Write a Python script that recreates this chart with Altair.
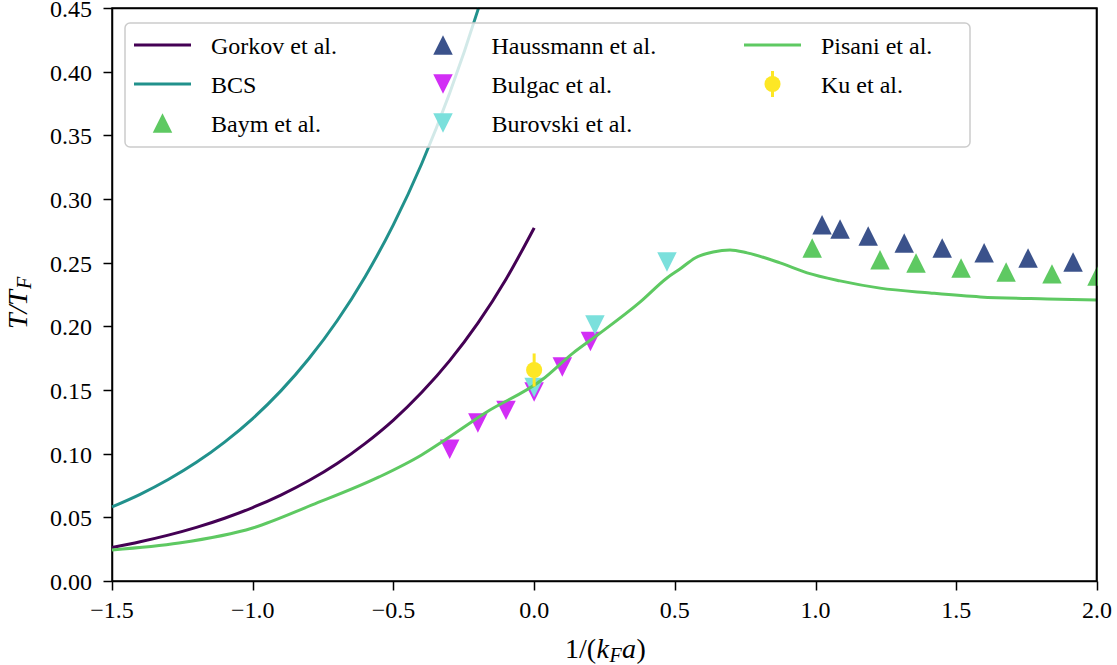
import altair as alt
import pandas as pd

FONT = "Liberation Serif"
LABEL_SIZE = 24
W, H = 985, 573

# ---- curve samples ----
gorkov_x = [-1.5, -1.4, -1.3, -1.2, -1.1, -1.0, -0.9, -0.8, -0.7, -0.6, -0.5, -0.4, -0.3, -0.2, -0.1, 0.0]
gorkov_y = [0.0263, 0.0308, 0.0360, 0.0421, 0.0493, 0.0577, 0.0675, 0.0789, 0.0923, 0.1081, 0.1264, 0.1480, 0.1731, 0.2025, 0.2370, 0.2773]

bcs_x = [-1.5, -1.4, -1.3, -1.2, -1.1, -1.0, -0.9, -0.8, -0.7, -0.6, -0.5, -0.4, -0.3, -0.2, -0.1976]
bcs_y = [0.0582, 0.0681, 0.0797, 0.0932, 0.1091, 0.1276, 0.1493, 0.1747, 0.2044, 0.2392, 0.2799, 0.3275, 0.3832, 0.4483, 0.4500]

pisani_x = [-1.5, -1.262, -1.0, -0.789, -0.551, -0.4, -0.317, -0.174, 0.028, 0.138, 0.224, 0.376, 0.472,
            0.518, 0.572, 0.636, 0.696, 0.757, 0.874, 0.970, 1.087, 1.229, 1.407, 1.585, 1.823, 2.0]
pisani_y = [0.0244, 0.0298, 0.0416, 0.0597, 0.0817, 0.0990, 0.1108, 0.1320, 0.1580, 0.1790, 0.1930, 0.2190, 0.2380,
            0.2450, 0.2537, 0.2584, 0.2600, 0.2577, 0.2498, 0.2420, 0.2357, 0.2300, 0.2262, 0.2231, 0.2215, 0.2207]

# ---- marker series ----
baym_x = [0.988, 1.229, 1.357, 1.517, 1.677, 1.840, 2.0]
baym_y = [0.2616, 0.2522, 0.2498, 0.2459, 0.2427, 0.2412, 0.2396]
haus_x = [1.023, 1.087, 1.187, 1.315, 1.450, 1.599, 1.755, 1.915]
haus_y = [0.2797, 0.2765, 0.2710, 0.2655, 0.2616, 0.2577, 0.2537, 0.2506]
bulgac_x = [-0.3, -0.2, -0.1, 0.0, 0.1, 0.2]
bulgac_y = [0.1035, 0.1240, 0.1340, 0.1485, 0.1680, 0.1880]
burovski_x = [0.0, 0.216, 0.472]
burovski_y = [0.1520, 0.2010, 0.2506]
ku_x = [0.0]
ku_y = [0.1657]
ku_err = [0.013]

# ---- series names / colours (legend order, column by column) ----
SERIES = ["Gorkov et al.", "BCS", "Baym et al.",
          "Haussmann et al.", "Bulgac et al.", "Burovski et al.",
          "Pisani et al.", "Ku et al."]
KIND = ["line", "line", "up", "up", "down", "down", "line", "ku"]
COLORS = ["#440154", "#21918c", "#5ec962",
          "#3b528b", "#d22ef5", "#7be0dc",
          "#5ec962", "#fde725"]
CLR = dict(zip(SERIES, COLORS))

X_TICKS = [-1.5, -1.0, -0.5, 0.0, 0.5, 1.0, 1.5, 2.0]
Y_TICKS = [0.0, 0.05, 0.10, 0.15, 0.20, 0.25, 0.30, 0.35, 0.40, 0.45]

UP = "M0,-1L-1,1L1,1Z"
DOWN = "M0,1L-1,-1L1,-1Z"

XS = alt.Scale(domain=[-1.5, 2.0], nice=False, zero=False)
YS = alt.Scale(domain=[0, 0.45], nice=False, zero=False)
ax_common = dict(grid=False, labels=False, tickSize=9, tickWidth=1.5, tickColor="black",
                 domainColor="black", domainWidth=1.5, title=None)
XAX = alt.Axis(values=X_TICKS, **ax_common)
YAX = alt.Axis(values=Y_TICKS, **ax_common)


def X(f):
    return alt.X(f + ":Q", scale=XS, axis=XAX)


def Y(f):
    return alt.Y(f + ":Q", scale=YS, axis=YAX)


def xy(xs, ys):
    return pd.DataFrame({"x": xs, "y": ys})


def line_layer(xs, ys, name):
    return alt.Chart(xy(xs, ys)).mark_line(
        color=CLR[name], strokeWidth=3, interpolate="monotone"
    ).encode(x=X("x"), y=Y("y"))


def point_layer(xs, ys, name, shape, size):
    return alt.Chart(xy(xs, ys)).mark_point(
        shape=shape, filled=True, color=CLR[name], opacity=1, size=size, strokeWidth=0
    ).encode(x=X("x"), y=Y("y"))


layers = [
    line_layer(gorkov_x, gorkov_y, "Gorkov et al."),
    line_layer(bcs_x, bcs_y, "BCS"),
    point_layer(baym_x, baym_y, "Baym et al.", UP, 380),
    point_layer(haus_x, haus_y, "Haussmann et al.", UP, 380),
    point_layer(bulgac_x, bulgac_y, "Bulgac et al.", DOWN, 380),
    point_layer(burovski_x, burovski_y, "Burovski et al.", DOWN, 380),
    line_layer(pisani_x, pisani_y, "Pisani et al."),
]
ku = pd.DataFrame({"x": ku_x, "y": ku_y,
                   "lo": [v - e for v, e in zip(ku_y, ku_err)],
                   "hi": [v + e for v, e in zip(ku_y, ku_err)]})
layers.append(alt.Chart(ku).mark_rule(color=CLR["Ku et al."], strokeWidth=3).encode(
    x=X("x"), y=Y("lo"), y2="hi:Q"))
layers.append(point_layer(ku_x, ku_y, "Ku et al.", "circle", 260))

one = pd.DataFrame({"t": [0]})

# white strip right of the plot area (markers are cut at the axes edge, as in the reference)
layers.append(alt.Chart(one).mark_rect(fill="white", stroke="white", strokeWidth=0).encode(
    x=alt.value(W + 1), x2=alt.value(W + 20), y=alt.value(-8), y2=alt.value(H)))

# ---- plot frame (top and right spines; bottom/left are the axis lines) ----
layers += [
    alt.Chart(one).mark_rule(color="black", strokeWidth=1.6).encode(
        x=alt.value(0), x2=alt.value(W), y=alt.value(0.5)),
    alt.Chart(one).mark_rule(color="black", strokeWidth=1.6).encode(
        x=alt.value(W - 0.5), y=alt.value(0), y2=alt.value(H)),
]

# ---- tick labels (text through the shared scales) ----
xt_df = pd.DataFrame({"v": X_TICKS})
yt_df = pd.DataFrame({"v": Y_TICKS})
layers.append(alt.Chart(xt_df).mark_text(
    font=FONT, fontSize=LABEL_SIZE, fontStyle="normal", align="center", baseline="alphabetic", color="black"
).encode(x=X("v"), y=alt.value(H + 37), text=alt.Text("v:Q", format=".1f")))
layers.append(alt.Chart(yt_df).mark_text(
    font=FONT, fontSize=LABEL_SIZE, fontStyle="normal", align="right", baseline="alphabetic", dy=9,
    color="black"
).encode(y=Y("v"), x=alt.value(-20), text=alt.Text("v:Q", format=".2f")))


def piece(text, x, y, size, italic, angle=None):
    kw = dict(text=text, font=FONT, fontSize=size, fontStyle="italic" if italic else "normal",
              align="left", baseline="alphabetic", color="black")
    if angle is not None:
        kw["angle"] = angle
    return alt.Chart(one).mark_text(**kw).encode(x=alt.value(x), y=alt.value(y))


# axis titles: 1/(k_F a)  and  T/T_F
layers += [
    piece("1/(", 453, 650, 28, False),
    piece("k", 484.5, 650, 28, True),
    piece("F", 497.5, 654, 20, True),
    piece("a", 510, 650, 28, True),
    piece(")", 524.5, 650, 28, False),
    piece("T/T", -85, 321, 28, True, 270),
    piece("F", -81, 281, 20, True, 270),
]

# ---- legend box ----
layers.append(alt.Chart(one).mark_rect(
    fill="white", fillOpacity=0.8, stroke="#cccccc", strokeWidth=1.5, cornerRadius=5
).encode(x=alt.value(13), x2=alt.value(858), y=alt.value(15), y2=alt.value(139)))

COL_X = [22, 302.5, 632]
ROW_Y = [37, 76, 115]
for i, (name, kind) in enumerate(zip(SERIES, KIND)):
    cx, ry = COL_X[i // 3], ROW_Y[i % 3]
    mid = cx + 28.5
    if kind == "line":
        layers.append(alt.Chart(one).mark_rule(color=CLR[name], strokeWidth=3).encode(
            x=alt.value(cx), x2=alt.value(cx + 57), y=alt.value(ry)))
    elif kind == "ku":
        layers.append(alt.Chart(one).mark_rule(color=CLR[name], strokeWidth=3).encode(
            x=alt.value(mid), y=alt.value(ry - 13), y2=alt.value(ry + 13)))
        layers.append(alt.Chart(one).mark_point(
            shape="circle", filled=True, color=CLR[name], opacity=1, size=260, strokeWidth=0
        ).encode(x=alt.value(mid), y=alt.value(ry)))
    else:
        layers.append(alt.Chart(one).mark_point(
            shape=UP if kind == "up" else DOWN, filled=True, color=CLR[name], opacity=1,
            size=380, strokeWidth=0
        ).encode(x=alt.value(mid), y=alt.value(ry)))
    layers.append(alt.Chart(one).mark_text(
        text=name, font=FONT, fontSize=LABEL_SIZE, fontStyle="normal", align="left",
        baseline="alphabetic", color="black"
    ).encode(x=alt.value(cx + 77), y=alt.value(ry + 9)))

chart = alt.layer(*layers).properties(
    width=W, height=H,
    autosize=alt.AutoSizeParams(type="none"),
    padding={"left": 112, "top": 8, "right": 20, "bottom": 84},
).configure(font=FONT, background="white").configure_view(stroke="black", strokeWidth=1.5)

chart.save("out.html", embed_options={"renderer": "svg", "actions": False})
